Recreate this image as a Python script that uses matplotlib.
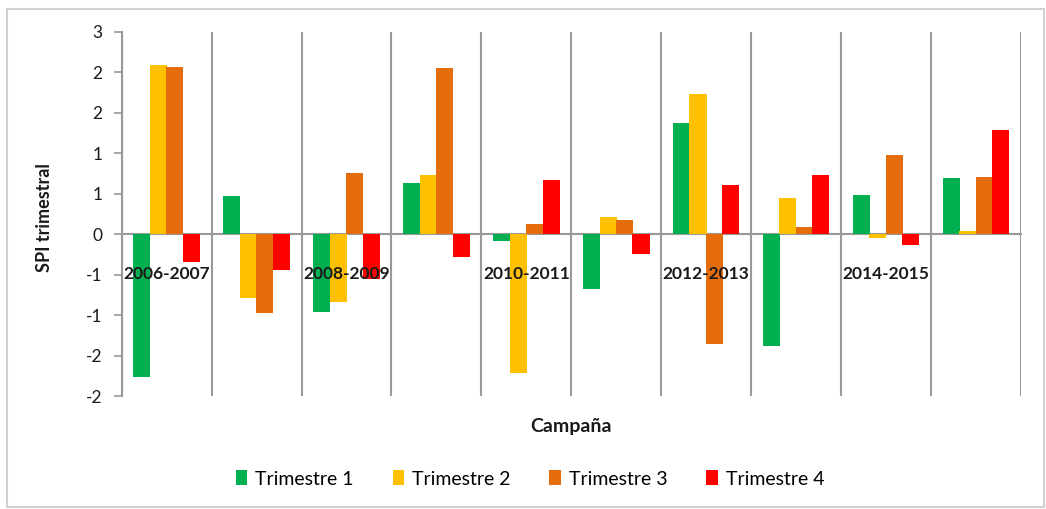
import math
import numpy as np
import matplotlib
matplotlib.use("Agg")
import matplotlib.pyplot as plt
from matplotlib.patches import Rectangle
from matplotlib.ticker import FuncFormatter

# Data
campanas = ['2006-2007', '2007-2008', '2008-2009', '2009-2010', '2010-2011',
            '2011-2012', '2012-2013', '2013-2014', '2014-2015', '2015-2016']
trimestre1 = [-1.76, 0.47, -0.96, 0.63, -0.08, -0.68, 1.37, -1.38, 0.48, 0.69]
trimestre2 = [2.09, -0.79, -0.84, 0.73, -1.72, 0.21, 1.73, 0.44, -0.05, 0.04]
trimestre3 = [2.07, -0.98, 0.75, 2.05, 0.12, 0.17, -1.36, 0.09, 0.98, 0.70]
trimestre4 = [-0.34, -0.44, -0.56, -0.28, 0.67, -0.24, 0.61, 0.73, -0.13, 1.28]
series = ['Trimestre 1', 'Trimestre 2', 'Trimestre 3', 'Trimestre 4']
colores = ['#00B050', '#FFC000', '#E46C0A', '#FF0000']

plt.rcParams['font.family'] = ['Lato', 'DejaVu Sans']

fig = plt.figure(figsize=(10.46, 5.09), dpi=100)
fig.patches.append(Rectangle((7 / 1046, 2 / 509), 1037 / 1046, 498 / 509,
                             transform=fig.transFigure, fill=False,
                             edgecolor='#d0d0d0', linewidth=1.5))
ax = fig.add_axes([0.1163, 0.222, 0.8598, 0.7157])

# spines first (set_position resets the ticks)
ax.spines['bottom'].set_position(('data', 0))
ax.spines['bottom'].set_color('#999999')
ax.spines['bottom'].set_linewidth(1.5)
ax.spines['left'].set_color('#999999')
ax.spines['left'].set_linewidth(1.5)
ax.spines['top'].set_visible(False)
ax.spines['right'].set_visible(False)

x = np.arange(len(campanas))
paso = 0.183
for i, (vals, nombre, col) in enumerate(zip([trimestre1, trimestre2, trimestre3, trimestre4], series, colores)):
    ax.bar(x + (i - 1.5) * paso, vals, width=0.19, color=col, label=nombre, zorder=3)

ax.set_xlim(-0.5, len(campanas) - 0.5)
ax.set_ylim(-2, 2.5)
ax.set_yticks(np.arange(-2, 2.51, 0.5))


def excel_round(v, pos):
    r = math.floor(abs(v) + 0.5 + 1e-9)
    return str(int(-r if v < 0 else r))


ax.yaxis.set_major_formatter(FuncFormatter(excel_round))
ax.tick_params(axis='y', length=6, width=1.2, color='#999999', pad=8,
               labelsize=12.5, labelcolor='#1a1a1a')

ax.set_xticks(x)
ax.set_xticklabels([c if i % 2 == 0 else '' for i, c in enumerate(campanas)],
                   fontweight='bold', fontsize=12.5, color='#1a1a1a')
ax.tick_params(axis='x', length=0, pad=23)
ax.set_xticks(np.arange(-0.5, len(campanas), 1), minor=True)
ax.tick_params(axis='x', which='minor', length=0)
ax.grid(which='minor', axis='x', color='#999999', linewidth=1.5, zorder=0)
ax.xaxis.set_zorder(5)

ax.set_ylabel('SPI trimestral', fontweight='bold', fontsize=13, color='#1a1a1a')
ax.yaxis.set_label_coords(-0.0764, 0.491)
ax.set_xlabel('Campaña', fontweight='bold', fontsize=14, color='#1a1a1a')
ax.xaxis.set_label_coords(0.4996, -0.06)

fig.legend(loc='center', bbox_to_anchor=(530 / 1046, 1 - 479 / 509), ncol=4,
           frameon=False, fontsize=14, handlelength=0.6, handleheight=0.8,
           handletextpad=0.4, columnspacing=2.0)

fig.savefig('out.png', dpi=100)
